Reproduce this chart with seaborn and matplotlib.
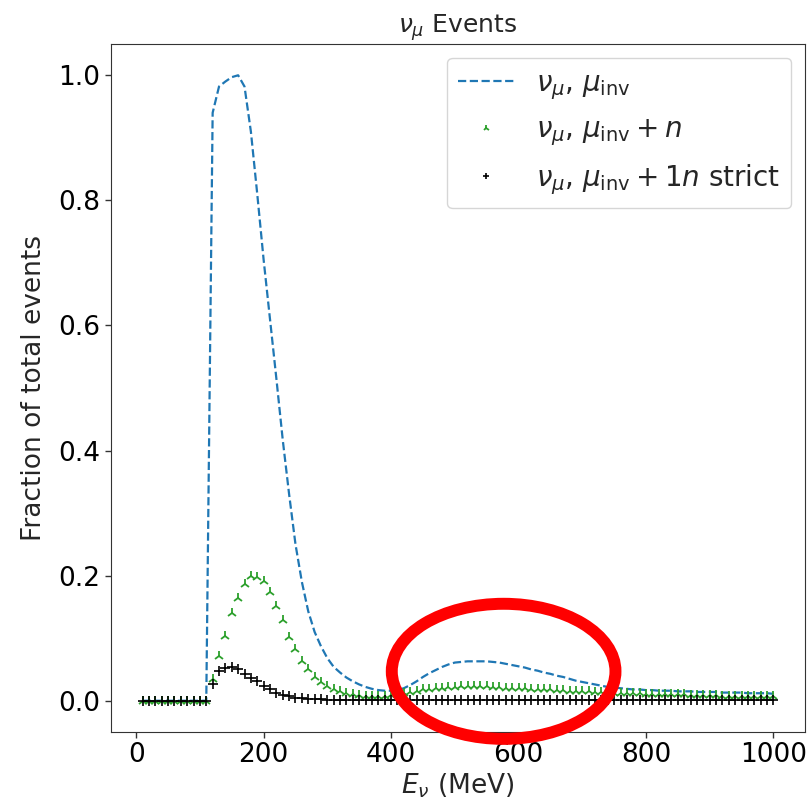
import numpy as np
import pandas as pd
import matplotlib
matplotlib.use("Agg")
import matplotlib.pyplot as plt
from matplotlib.patches import Ellipse
import seaborn as sns

# ---------------- data ----------------
energy = list(range(10, 1001, 10))  # neutrino energy bins (MeV)

mu_inv = [0.0] * 11 + [
    0.94, 0.982, 0.99, 0.997, 1.0, 0.982, 0.91, 0.81, 0.705, 0.61,
    0.515, 0.417, 0.33, 0.25, 0.19, 0.143, 0.11, 0.087, 0.068, 0.054,
    0.045, 0.037, 0.031, 0.026, 0.022, 0.019, 0.017, 0.016, 0.016,
    0.017, 0.020, 0.025, 0.031, 0.038, 0.044, 0.049, 0.054, 0.058, 0.061,
    0.062, 0.063, 0.063, 0.063, 0.063, 0.062, 0.061, 0.059, 0.057, 0.055,
    0.053, 0.050, 0.048, 0.045, 0.043, 0.040, 0.038, 0.035, 0.032, 0.030,
    0.028, 0.026, 0.024, 0.022, 0.021, 0.020, 0.019, 0.018, 0.018, 0.017,
    0.017, 0.016, 0.016, 0.016, 0.015, 0.015, 0.015, 0.014, 0.014, 0.014,
    0.014, 0.013, 0.013, 0.013, 0.013, 0.012, 0.012, 0.012, 0.012, 0.011,
]

mu_inv_n = [0.0] * 11 + [
    0.035, 0.071, 0.104, 0.141, 0.164, 0.186, 0.200, 0.198, 0.192, 0.174,
    0.152, 0.129, 0.102, 0.083, 0.064, 0.051, 0.038, 0.030, 0.024, 0.019,
    0.015, 0.012, 0.010, 0.009, 0.008, 0.008, 0.008, 0.008, 0.009,
    0.010, 0.012, 0.014, 0.016, 0.018, 0.019, 0.020, 0.021, 0.022, 0.022,
    0.023, 0.023, 0.023, 0.023, 0.023, 0.022, 0.022, 0.021, 0.021, 0.020,
    0.020, 0.019, 0.019, 0.018, 0.018, 0.017, 0.017, 0.016, 0.016, 0.015,
    0.015, 0.014, 0.014, 0.013, 0.013, 0.013, 0.012, 0.012, 0.012, 0.011,
    0.011, 0.011, 0.010, 0.010, 0.010, 0.010, 0.009, 0.009, 0.009, 0.009,
    0.009, 0.008, 0.008, 0.008, 0.008, 0.008, 0.008, 0.007, 0.007, 0.007,
]

mu_inv_1n_strict = [0.0] * 11 + [
    0.026, 0.048, 0.052, 0.054, 0.050, 0.043, 0.036, 0.031, 0.024, 0.018,
    0.013, 0.0096, 0.007, 0.005, 0.004, 0.003, 0.0025, 0.002, 0.0015, 0.0012,
    0.001, 0.001, 0.001, 0.0008, 0.0008, 0.0008, 0.0008, 0.0008, 0.0008,
] + [0.001] * 30 + [0.0008] * 10 + [0.0006] * 20

labels = [r"$\nu_\mu$, $\mu_{\rm inv}$",
          r"$\nu_\mu$, $\mu_{\rm inv} + n$",
          r"$\nu_\mu$, $\mu_{\rm inv} + 1n$ strict"]

df = pd.DataFrame({"E": energy, "a": mu_inv, "b": mu_inv_n, "c": mu_inv_1n_strict})

# ---------------- style ----------------
sns.set_style("ticks")
plt.rcParams["font.family"] = ["DejaVu Sans"]
plt.rcParams["axes.edgecolor"] = "#333333"
plt.rcParams["xtick.color"] = "#333333"
plt.rcParams["ytick.color"] = "#333333"
plt.rcParams["xtick.labelcolor"] = "black"
plt.rcParams["ytick.labelcolor"] = "black"

fig = plt.figure(figsize=(8.1, 8.11), dpi=100)
ax = fig.add_axes([111 / 810, 1 - 732 / 811, (805 - 111) / 810, (732 - 44) / 811])

green = "#2ca02c"
sns.lineplot(data=df, x="E", y="a", ax=ax, color="#1f77b4", linestyle="--",
             linewidth=1.6, label=labels[0])
sns.lineplot(data=df, x="E", y="b", ax=ax, color=green, linestyle="",
             marker="2", markersize=7.5, markeredgewidth=1.3,
             markeredgecolor=green, label=labels[1])
sns.lineplot(data=df, x="E", y="c", ax=ax, color="black", linestyle="",
             marker="+", markersize=7, markeredgewidth=1.2,
             markeredgecolor="black", label=labels[2])

ax.set_xlim(-39.5, 1049.5)
ax.set_ylim(-0.05, 1.05)
ax.set_xticks([0, 200, 400, 600, 800, 1000])
ax.set_yticks([0.0, 0.2, 0.4, 0.6, 0.8, 1.0])
ax.tick_params(labelsize=19, length=4, width=1)
ax.set_xlabel(r"$E_\nu$ (MeV)", fontsize=19, labelpad=2)
ax.set_ylabel("Fraction of total events", fontsize=19, labelpad=8)
ax.set_title(r"$\nu_\mu$ Events", fontsize=18, pad=8)

leg = ax.legend(loc="upper right", fontsize=20, markerscale=0.6,
                frameon=True, fancybox=True, borderaxespad=0.5)
leg.get_frame().set_edgecolor("#cccccc")

# red highlight ellipse annotation
ax.add_patch(Ellipse((576.6, 0.047), 351, 0.216, fill=False, edgecolor="red",
                     linewidth=8.6, clip_on=False, zorder=6))

fig.savefig("out.png", dpi=100)
